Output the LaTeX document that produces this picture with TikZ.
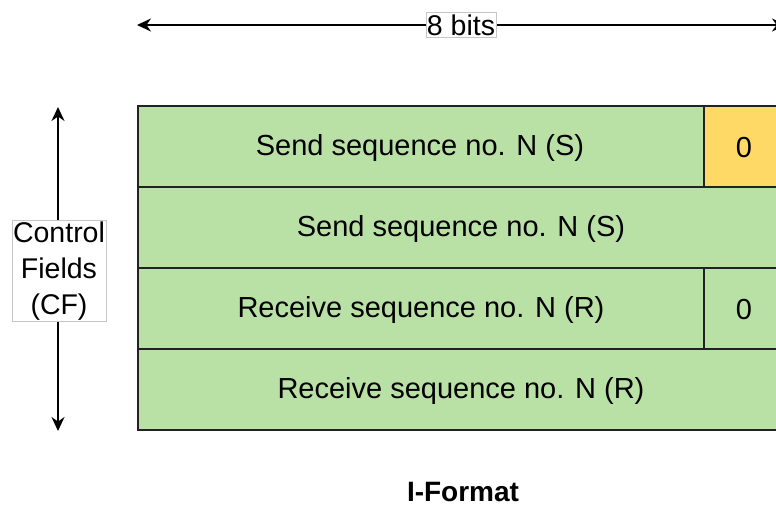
\documentclass[tikz,border=0pt]{standalone}
\usepackage{fontspec}
\setmainfont{Liberation Sans}
\usetikzlibrary{arrows.meta}
\definecolor{fieldgreen}{HTML}{B9E0A5}
\definecolor{fieldyellow}{HTML}{FFD966}
\definecolor{edgegray}{HTML}{222222}
\tikzset{
  field/.style={draw=edgegray, line width=1.7pt, fill=fieldgreen},
  flag/.style={draw=edgegray, line width=1.7pt, fill=fieldyellow},
  fieldtext/.style={font=\fontsize{29}{34}\selectfont, text=black},
  tag/.style={draw=gray!45, line width=0.8pt, fill=white, inner sep=1pt,
    font=\fontsize{28.5}{36}\selectfont, align=center},
  span/.style={line width=1.6pt, {Stealth[length=14pt,width=13pt]}-{Stealth[length=14pt,width=13pt]}}
}
\begin{document}
\begin{tikzpicture}[x=1pt,y=-1pt]
\clip (0,0) rectangle (776,506);
\fill[white] (0,0) rectangle (776,506);

% octet rows of the control field
\draw[field] (138,106) rectangle (704,187);
\draw[flag]  (704,106) rectangle (784,187);
\draw[field] (138,187) rectangle (784,268);
\draw[field] (138,268) rectangle (704,349);
\draw[field] (704,268) rectangle (784,349);
\draw[field] (138,349) rectangle (784,430);

\node[fieldtext] (r1) at (420,148) {Send sequence no. N (S)};
\node[fieldtext] (b1) at (744,148) {0};
\node[fieldtext] (r2) at (461,229) {Send sequence no. N (S)};
\node[fieldtext] (r3) at (421,310) {Receive sequence no. N (R)};
\node[fieldtext] (b3) at (744,310) {0};
\node[fieldtext] (r4) at (461,391) {Receive sequence no. N (R)};

% width dimension
\coordinate (wl) at (137,25);
\coordinate (wr) at (786,25);
\draw[span] (wl) -- (wr);
\node[tag, inner ysep=2pt] (bits) at (461,25) {8 bits};

% height dimension
\coordinate (ht) at (58,107);
\coordinate (hb) at (58,431);
\draw[span] (ht) -- (hb);
\node[tag] (cf) at (59,271) {Control\\Fields\\(CF)};

\node[font=\bfseries\fontsize{28}{32}\selectfont] (title) at (463,492) {I-Format};
\end{tikzpicture}
\end{document}
